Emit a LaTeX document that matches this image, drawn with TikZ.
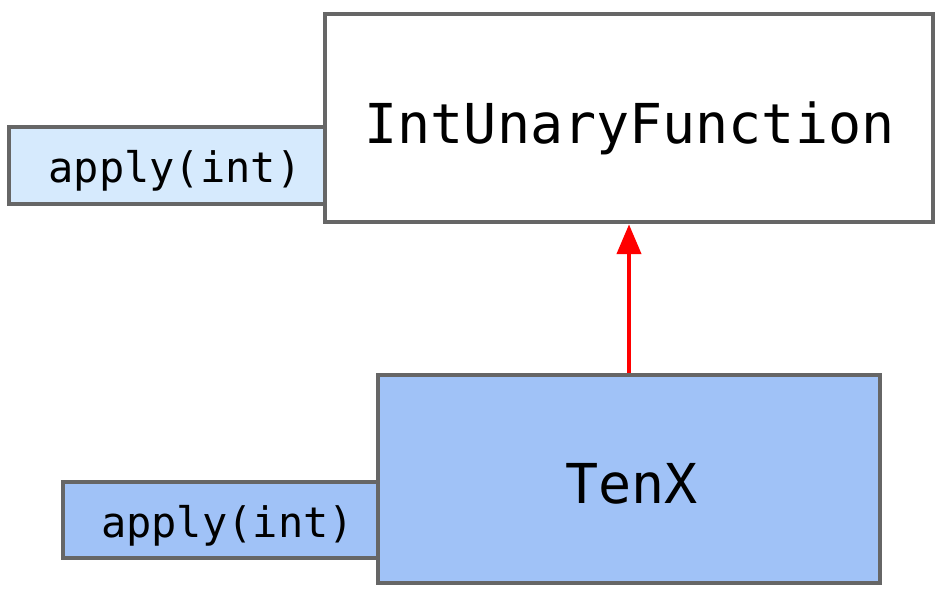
\documentclass[tikz,border=0pt]{standalone}
\usepackage{fontspec}
\newfontfamily\codefont{DejaVu Sans Mono}
\usetikzlibrary{arrows.meta}
\definecolor{edgegray}{HTML}{666666}
\definecolor{paleblue}{HTML}{D6EAFD}
\definecolor{midblue}{HTML}{A0C2F7}
\definecolor{arrowred}{HTML}{FF0000}
\tikzset{
  boxshape/.style={draw=edgegray, line width=4.5pt, inner sep=0pt},
  classname/.style={font=\codefont\fontsize{55}{60}\selectfont, inner sep=0pt},
  methodname/.style={font=\codefont\fontsize{42}{48}\selectfont, inner sep=0pt},
  inherit/.style={draw=arrowred, line width=4.5pt,
    -{Triangle[length=30pt,width=24pt]}}
}
\begin{document}
\begin{tikzpicture}[x=1pt,y=-1pt]
  \useasboundingbox (0,0) rectangle (945,593);
  % interface and its method
  \node[boxshape, fill=paleblue, minimum width=316pt, minimum height=77pt]
    (ifapply) at (167,165.5) {};
  \node[methodname] (ifapply-label) at (175,170.5) {apply(int)};
  \node[boxshape, fill=white, minimum width=608pt, minimum height=208pt]
    (iuf) at (629,118) {};
  \node[classname] (iuf-label) at (629.5,128) {IntUnaryFunction};
  % implementing class and its method
  \node[boxshape, fill=midblue, minimum width=315pt, minimum height=76pt]
    (tenapply) at (220.5,520) {};
  \node[methodname] (tenapply-label) at (227.5,526) {apply(int)};
  \node[boxshape, fill=midblue, minimum width=502pt, minimum height=208pt]
    (tenx) at (629,479) {};
  \node[classname] (tenx-label) at (631.5,484) {TenX};
  % implements relation
  \draw[inherit] (tenx.north) -- (iuf.south);
\end{tikzpicture}
\end{document}
